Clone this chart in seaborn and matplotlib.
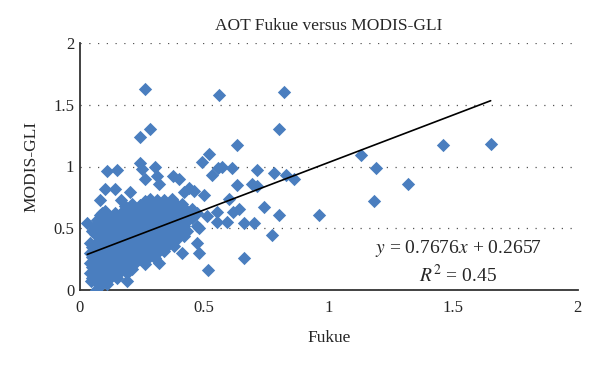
import matplotlib
matplotlib.use('Agg')
from matplotlib import pyplot as plt
import seaborn as sns
import pandas as pd
import numpy as np

#### DATA #####################################################################

# scattered points (Fukue AOT, MODIS-GLI AOT)
fukue_out = [0.26, 0.56, 0.82, 0.28, 0.24, 0.80, 0.63, 0.52, 0.49, 0.24,
             0.30, 0.25, 0.11, 0.15, 0.555, 0.53, 0.61, 0.57, 0.71, 0.78,
             0.83, 0.86, 0.26, 0.31, 0.32, 0.10, 0.14, 0.08, 0.165, 0.20,
             0.375, 0.40, 0.42, 0.44, 0.46, 0.50, 0.63, 0.69, 0.71, 0.74,
             0.64, 0.615, 0.60, 0.55, 0.51, 0.55, 0.59, 0.66, 0.70, 0.80,
             0.77, 0.66, 0.515, 0.48, 0.47, 0.48, 0.41, 0.32, 0.19, 0.065,
             0.045, 0.03, 1.13, 1.19, 1.46, 1.65, 1.32, 1.18, 0.96]
modis_out = [1.63, 1.58, 1.60, 1.30, 1.24, 1.30, 1.17, 1.10, 1.04, 1.03,
             1.00, 0.98, 0.96, 0.97, 0.985, 0.93, 0.99, 1.00, 0.97, 0.945,
             0.93, 0.90, 0.90, 0.92, 0.86, 0.815, 0.82, 0.73, 0.73, 0.79,
             0.92, 0.90, 0.79, 0.83, 0.80, 0.77, 0.85, 0.855, 0.84, 0.675,
             0.66, 0.63, 0.74, 0.63, 0.60, 0.55, 0.55, 0.54, 0.54, 0.61,
             0.445, 0.26, 0.16, 0.30, 0.38, 0.50, 0.30, 0.22, 0.07, 0.0,
             0.07, 0.54, 1.09, 0.985, 1.17, 1.18, 0.86, 0.72, 0.61]

# dense cluster near the origin, column by column (Fukue -> MODIS values)
cluster = {
    0.04: [0.14, 0.22, 0.30, 0.38],
    0.05: [0.10, 0.19, 0.27, 0.35, 0.48],
    0.06: [0.08, 0.16, 0.24, 0.33, 0.45, 0.52],
    0.07: [0.06, 0.14, 0.22, 0.30, 0.39, 0.50, 0.57],
    0.08: [0.03, 0.12, 0.20, 0.28, 0.36, 0.44, 0.61],
    0.09: [0.09, 0.17, 0.25, 0.33, 0.42, 0.52, 0.62],
    0.10: [0.07, 0.15, 0.23, 0.31, 0.39, 0.48, 0.56, 0.64],
    0.11: [0.05, 0.12, 0.20, 0.28, 0.37, 0.45, 0.54, 0.60],
    0.12: [0.10, 0.18, 0.26, 0.34, 0.42, 0.50, 0.59],
    0.13: [0.14, 0.22, 0.30, 0.39, 0.47, 0.56],
    0.14: [0.12, 0.21, 0.29, 0.37, 0.45, 0.53, 0.62],
    0.15: [0.10, 0.18, 0.26, 0.34, 0.43, 0.51, 0.60],
    0.16: [0.15, 0.23, 0.31, 0.40, 0.48, 0.57],
    0.17: [0.20, 0.28, 0.37, 0.45, 0.54, 0.63],
    0.18: [0.17, 0.26, 0.34, 0.43, 0.51, 0.60, 0.68],
    0.19: [0.14, 0.23, 0.31, 0.40, 0.48, 0.57],
    0.20: [0.20, 0.28, 0.37, 0.45, 0.53, 0.63],
    0.21: [0.17, 0.25, 0.34, 0.42, 0.51, 0.60, 0.70],
    0.22: [0.22, 0.31, 0.39, 0.48, 0.56, 0.66],
    0.23: [0.28, 0.36, 0.45, 0.53, 0.62],
    0.24: [0.25, 0.33, 0.42, 0.50, 0.58, 0.69],
    0.25: [0.30, 0.39, 0.47, 0.56, 0.65],
    0.26: [0.21, 0.28, 0.36, 0.45, 0.53, 0.61, 0.72],
    0.27: [0.25, 0.33, 0.42, 0.50, 0.58, 0.68],
    0.28: [0.30, 0.38, 0.47, 0.55, 0.64, 0.74],
    0.29: [0.35, 0.44, 0.52, 0.61, 0.70],
    0.30: [0.26, 0.33, 0.41, 0.50, 0.58, 0.67],
    0.31: [0.30, 0.39, 0.47, 0.55, 0.64, 0.73],
    0.32: [0.36, 0.44, 0.52, 0.61, 0.70],
    0.33: [0.41, 0.49, 0.58, 0.67],
    0.34: [0.32, 0.39, 0.47, 0.55, 0.64, 0.73],
    0.35: [0.36, 0.44, 0.53, 0.61, 0.70],
    0.36: [0.42, 0.50, 0.58, 0.68],
    0.37: [0.39, 0.47, 0.55, 0.64, 0.74],
    0.38: [0.36, 0.45, 0.53, 0.62, 0.71],
    0.39: [0.41, 0.50, 0.59, 0.68],
    0.40: [0.48, 0.56, 0.65],
    0.41: [0.53, 0.62, 0.70],
    0.42: [0.44, 0.52, 0.60],
    0.43: [0.48, 0.56, 0.64],
    0.45: [0.58, 0.66],
    0.47: [0.52, 0.62],
}

slope = 0.7676
intercept = 0.2657
r2 = 0.45

#### BUILD TABLE ##############################################################

xs = list(fukue_out)
ys = list(modis_out)
for cx, col in cluster.items():
    for cy in col:
        xs.append(cx)
        ys.append(cy)
df = pd.DataFrame({'Fukue': xs, 'MODIS-GLI': ys})

#### PLOT #####################################################################

sns.set_style('white')
plt.rcParams['font.family'] = ['Liberation Serif', 'DejaVu Serif']
plt.rcParams['mathtext.fontset'] = 'stix'

fig = plt.figure(figsize=(6, 3.7), dpi=100)
ax = fig.add_axes([0.133, 0.216, 0.83, 0.668])

sns.scatterplot(data=df, x='Fukue', y='MODIS-GLI', marker='D', s=46,
                color='#4a7ebf', linewidth=0, ax=ax, zorder=3)

# trend line over the data range
lx = np.array([df['Fukue'].min(), df['Fukue'].max()])
ax.plot(lx, slope * lx + intercept, color='black', lw=1.2, zorder=4)

ax.set_xlim(0, 2)
ax.set_ylim(0, 2)
ax.set_xticks([0, 0.5, 1, 1.5, 2])
ax.set_yticks([0, 0.5, 1, 1.5, 2])
ax.set_xticklabels(['0', '0.5', '1', '1.5', '2'])
ax.set_yticklabels(['0', '0.5', '1', '1.5', '2'])
ax.tick_params(labelsize=12, length=0, pad=4)
ax.tick_params(axis='x', pad=7)

ax.yaxis.grid(True, linestyle=(0, (1, 6)), color='#555555', lw=0.9)
ax.xaxis.grid(False)
for s in ['top', 'right']:
    ax.spines[s].set_visible(False)
for s in ['left', 'bottom']:
    ax.spines[s].set_color('#333333')
    ax.spines[s].set_linewidth(1.3)

ax.set_title('AOT Fukue versus MODIS-GLI', fontsize=12.5, pad=9)
ax.set_xlabel('Fukue', fontsize=12.5, labelpad=10)
ax.set_ylabel('MODIS-GLI', fontsize=12.5, labelpad=10)

ax.text(1.52, 0.34, r'$y$ = %.4f$x$ + %.4f' % (slope, intercept),
        ha='center', va='center', fontsize=14)
ax.text(1.52, 0.12, r'$R^2$ = %.2f' % r2, ha='center', va='center',
        fontsize=14)

fig.savefig('out.png', dpi=100)
